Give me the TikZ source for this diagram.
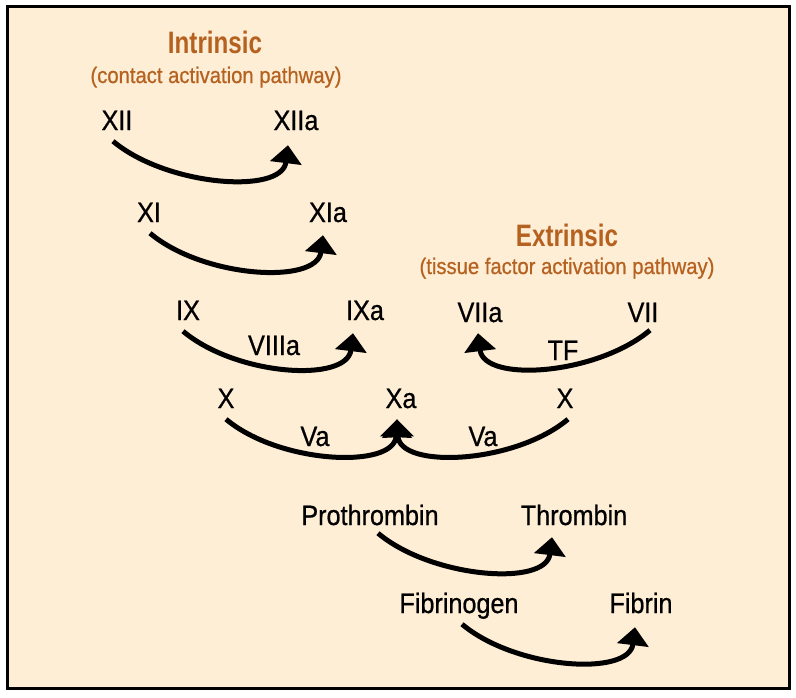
\documentclass[tikz,border=0pt]{standalone}
\usepackage{fontspec}
\setmainfont{Liberation Sans}[FakeStretch=0.9]
\newfontfamily\labelfont{Liberation Sans}[FakeStretch=0.9, FakeBold=0.7]
\newfontfamily\headfont{Liberation Sans}[FakeStretch=0.78]
\usepackage{xcolor}
\usepackage{tikz}
\usetikzlibrary{arrows.meta, positioning}
\definecolor{pathbrown}{RGB}{181,98,32}
\definecolor{panelcream}{RGB}{255,238,214}

\begin{document}
\begin{tikzpicture}[x=1pt, y=1pt]

	\tikzstyle{factor}=[inner xsep=0pt, inner ysep=11pt, text height=20pt, text depth=0pt, font=\labelfont\fontsize{28}{32}\selectfont]
	\tikzstyle{cofactor}=[factor, inner ysep=0pt]
	\tikzstyle{pathtitle}=[anchor=base, text=pathbrown, font=\headfont\bfseries\fontsize{31}{36}\selectfont]
	\tikzstyle{pathnote}=[anchor=base, text=pathbrown, font=\labelfont\fontsize{22.5}{26}\selectfont]
	\tikzstyle{conv}=[line width=5pt, -{Triangle[width=31pt, length=18pt]}]

	\useasboundingbox (0,0) rectangle (796,-697);
	\draw [line width=3pt, fill=panelcream] (7.5,-6.5) rectangle (789.5,-688.5);

	\node (intrinsic) at (215,-53) [pathtitle] {Intrinsic};
	\node (intrinsicnote) at (216,-83) [pathnote] {(contact activation pathway)};
	\node (extrinsic) at (567,-246) [pathtitle] {Extrinsic};
	\node (extrinsicnote) at (567,-274) [pathnote] {(tissue factor activation pathway)};

	\node (xii) at (117,-120) [factor] {XII};
	\node (xiia) at (296,-120) [factor] {XIIa};
	\draw [conv] ([xshift=-4pt]xii.south) .. controls +(-40:70) and +(-97:50) .. ([xshift=-8pt, yshift=-4pt]xiia.south);

	\node (xi) at (149,-212) [factor] {XI};
	\node (xia) at (328,-212) [factor] {XIa};
	\draw [conv] ([xshift=1pt]xi.south) .. controls +(-40:70) and +(-97:50) .. ([xshift=-5pt, yshift=-2pt]xia.south);

	\node (ix) at (188,-310) [factor] {IX};
	\node (ixa) at (365,-310) [factor] {IXa};
	\node (viiia) at (274,-345) [cofactor] {VIIIa};
	\draw [conv] ([xshift=-5pt]ix.south) .. controls +(-40:70) and +(-97:50) .. ([xshift=-12pt, yshift=-2pt]ixa.south);

	\node (viia) at (480,-312) [factor] {VIIa};
	\node (vii) at (643,-312) [factor] {VII};
	\node (tf) at (563,-350) [cofactor] {TF};
	\draw [conv] ([xshift=7pt, yshift=3pt]vii.south) .. controls +(-140:70) and +(-83:50) .. ([xshift=-2pt]viia.south);

	\node (xleft) at (226,-398) [factor] {X};
	\node (xa) at (401,-398) [factor] {Xa};
	\node (xright) at (565,-398) [factor] {X};
	\node (valeft) at (315,-436) [cofactor] {Va};
	\node (varight) at (483,-436) [cofactor] {Va};
	\draw [conv] (xleft.south) .. controls +(-40:70) and +(-93:50) .. ([xshift=-4pt]xa.south);
	\draw [conv] ([xshift=3pt]xright.south) .. controls +(-140:70) and +(-87:50) .. ([xshift=-4pt]xa.south);

	\node (prothrombin) at (370,-515) [factor] {Prothrombin};
	\node (thrombin) at (574,-515) [factor] {Thrombin};
	\draw [conv] ([xshift=8pt, yshift=3pt]prothrombin.south) .. controls +(-40:70) and +(-97:50) .. ([xshift=-22pt, yshift=-1pt]thrombin.south);

	\node (fibrinogen) at (459,-603) [factor] {Fibrinogen};
	\node (fibrin) at (641,-603) [factor] {Fibrin};
	\draw [conv] ([xshift=3pt]fibrinogen.south) .. controls +(-40:70) and +(-97:50) .. ([xshift=-6pt, yshift=-3pt]fibrin.south);
\end{tikzpicture}
\end{document}
